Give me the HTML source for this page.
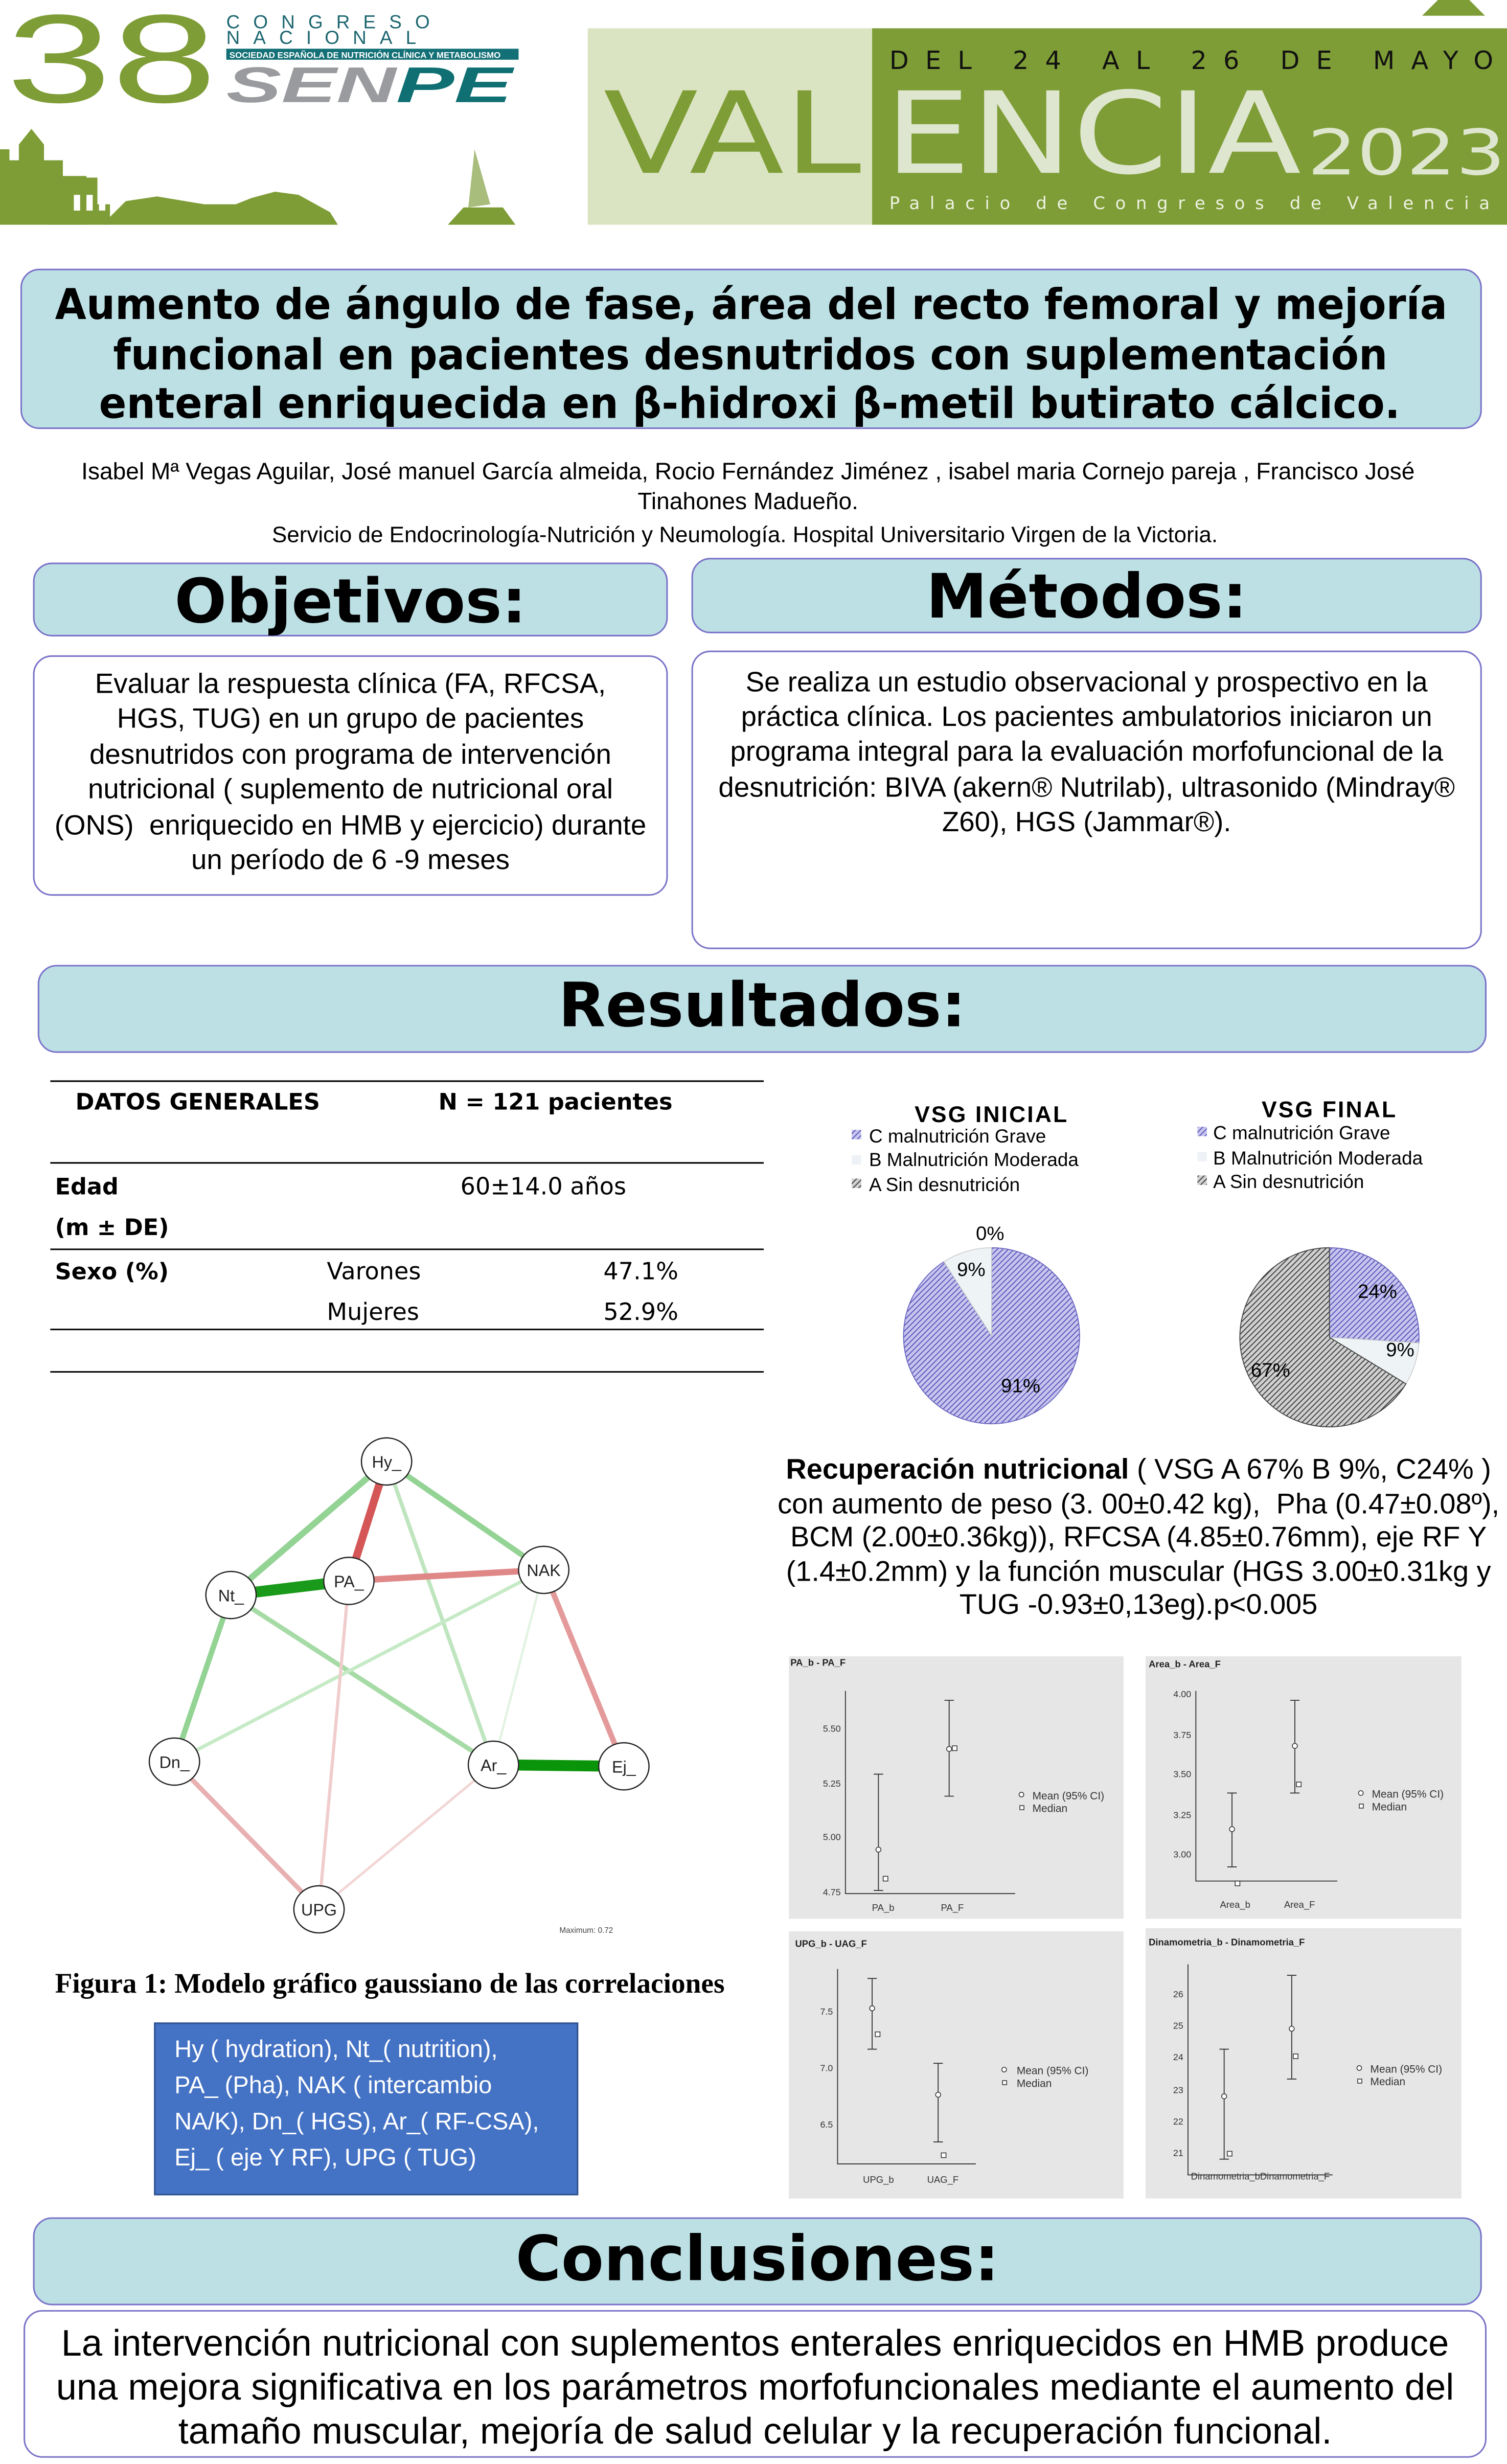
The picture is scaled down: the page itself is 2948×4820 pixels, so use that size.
<!DOCTYPE html>
<html><head><meta charset="utf-8">
<style>
html,body{margin:0;padding:0;background:#fff;}
body{width:2948px;height:4820px;overflow:hidden;position:relative;}
#w{position:absolute;left:0;top:0;width:959px;height:1568px;transform:scale(3.07404);transform-origin:0 0;font-family:"Liberation Sans",sans-serif;color:#000;}
.a{position:absolute;}
.box{position:absolute;box-sizing:border-box;border:1.3px solid #7b74c9;border-radius:12px;}
.hb{background:#bde0e5;}
.c{text-align:center;white-space:nowrap;}
.b{font-weight:bold;}
</style></head><body><div id="w">

<!-- HEADER -->
<svg class="a" style="left:0;top:0" width="959" height="145">
  <rect x="374" y="18" width="182" height="125" fill="#dbe4c2"/>
  <rect x="555" y="18" width="404" height="125" fill="#7e9d36"/>
  <text x="4" y="65" font-family="Liberation Sans" font-size="80" fill="#7e9d36" textLength="134" lengthAdjust="spacingAndGlyphs">38</text>
  <text x="144" y="18" font-family="Liberation Sans" font-size="12" fill="#1d6670" letter-spacing="8.5">CONGRESO</text>
  <text x="144" y="28" font-family="Liberation Sans" font-size="12" fill="#1d6670" letter-spacing="8.5">NACIONAL</text>
  <rect x="144" y="31" width="186" height="7" fill="#137076"/>
  <text x="146" y="37" font-family="Liberation Sans" font-size="5.5" fill="#fff" font-weight="bold">SOCIEDAD ESPAÑOLA DE NUTRICIÓN CLÍNICA Y METABOLISMO</text>
  <text x="144" y="65" font-family="Liberation Sans" font-size="32" font-weight="bold" font-style="italic" fill="#9a9b9e" textLength="108" lengthAdjust="spacingAndGlyphs">SEN</text>
  <text x="252" y="65" font-family="Liberation Sans" font-size="32" font-weight="bold" font-style="italic" fill="#0f6f73" textLength="74" lengthAdjust="spacingAndGlyphs">PE</text>
  <path d="M0 143 L0 95 L6 95 L6 102 L12 102 L12 92 L20 82 L28 92 L28 102 L40 102 L40 113 L62 113 L62 130 L70 130 L70 143 Z" fill="#7e9d36"/>
  <path d="M30 143 L30 112 L55 112 L55 143 Z M65 143 L80 128 L100 125 L130 130 L150 130 L160 126 L175 122 L190 124 L210 135 L215 143 Z" fill="#7e9d36"/>
  <rect x="47" y="124" width="4" height="10" fill="#fff"/><rect x="55" y="124" width="4" height="10" fill="#fff"/><rect x="63" y="124" width="4" height="10" fill="#fff"/>
  <path d="M285 143 L295 132 L320 132 L328 143 Z" fill="#7e9d36"/>
  <path d="M298 132 L302 95 L312 130 Z" fill="#a8bd7c"/>
  <text x="566" y="44" font-family="DejaVu Sans" font-size="16" fill="#111" letter-spacing="10.5">DEL 24 AL 26 DE MAYO</text>
  <text x="384" y="110" font-family="DejaVu Sans" font-size="72" fill="#7e9d36" textLength="164" lengthAdjust="spacingAndGlyphs">VAL</text>
  <text x="563" y="110" font-family="DejaVu Sans" font-size="72" fill="#dfe6cf" textLength="265" lengthAdjust="spacingAndGlyphs">ENCIA</text>
  <text x="832" y="111" font-family="DejaVu Sans" font-size="40" fill="#dfe6cf" textLength="126" lengthAdjust="spacingAndGlyphs">2023</text>
  <text x="566" y="133" font-family="DejaVu Sans" font-size="11" fill="#eef2e2" letter-spacing="6.4">Palacio de Congresos de Valencia</text>
  <path d="M905 10 L915 0 L935 0 L945 10 Z" fill="#7e9d36"/>
</svg>

<!-- TITLE -->
<div class="box hb" style="left:13px;top:171px;width:930px;height:102px;"></div>
<svg class="a" style="left:0;top:170px" width="959" height="110" font-family="DejaVu Sans" font-weight="bold" font-size="27">
  <text x="35" y="33" textLength="886" lengthAdjust="spacingAndGlyphs">Aumento de ángulo de fase, área del recto femoral y mejoría</text>
  <text x="72" y="65" textLength="811" lengthAdjust="spacingAndGlyphs">funcional en pacientes desnutridos con suplementación</text>
  <text x="63" y="96" textLength="828" lengthAdjust="spacingAndGlyphs">enteral enriquecida en β-hidroxi β-metil butirato cálcico.</text>
</svg>

<div class="a c" style="left:0;top:291px;width:952px;font-size:15px;line-height:19px;">Isabel Mª Vegas Aguilar, José manuel García almeida, Rocio Fernández Jiménez , isabel maria Cornejo pareja , Francisco José<br>Tinahones Madueño.</div>
<div class="a c" style="left:0;top:333px;width:948px;font-size:14.3px;">Servicio de Endocrinología-Nutrición y Neumología. Hospital Universitario Virgen de la Victoria.</div>

<!-- OBJETIVOS -->
<div class="box hb" style="left:21px;top:358px;width:404px;height:47px;"></div>
<div class="a c b" style="left:21px;top:361px;width:404px;font-size:39px;font-family:'DejaVu Sans',sans-serif;">Objetivos:</div>
<div class="box" style="left:21px;top:417px;width:404px;height:153px;"></div>
<div class="a c" style="left:21px;top:424px;width:404px;font-size:17.8px;line-height:22.4px;">Evaluar la respuesta clínica (FA, RFCSA,<br>HGS, TUG) en un grupo de pacientes<br>desnutridos con programa de intervención<br>nutricional ( suplemento de nutricional oral<br>(ONS)&nbsp; enriquecido en HMB y ejercicio) durante<br>un período de 6 -9 meses</div>

<!-- METODOS -->
<div class="box hb" style="left:440px;top:355px;width:503px;height:48px;"></div>
<div class="a c b" style="left:440px;top:358px;width:503px;font-size:39px;font-family:'DejaVu Sans',sans-serif;">Métodos:</div>
<div class="box" style="left:440px;top:414px;width:503px;height:190px;"></div>
<div class="a c" style="left:440px;top:423px;width:503px;font-size:17.8px;line-height:22.2px;">Se realiza un estudio observacional y prospectivo en la<br>práctica clínica. Los pacientes ambulatorios iniciaron un<br>programa integral para la evaluación morfofuncional de la<br>desnutrición: BIVA (akern® Nutrilab), ultrasonido (Mindray®<br>Z60), HGS (Jammar®).</div>

<!-- RESULTADOS -->
<div class="box hb" style="left:24px;top:614px;width:922px;height:56px;"></div>
<div class="a c b" style="left:24px;top:618px;width:922px;font-size:39px;font-family:'DejaVu Sans',sans-serif;">Resultados:</div>

<!-- TABLE -->
<svg class="a" style="left:0;top:680px" width="500" height="200" font-family="DejaVu Sans">
  <g stroke="#000" stroke-width="1"><line x1="32" y1="8" x2="486" y2="8"/><line x1="32" y1="60" x2="486" y2="60"/><line x1="32" y1="115" x2="486" y2="115"/><line x1="32" y1="166" x2="486" y2="166"/><line x1="32" y1="193" x2="486" y2="193"/></g>
  <g font-size="14.5" font-weight="bold"><text x="48" y="26">DATOS GENERALES</text><text x="279" y="26">N = 121 pacientes</text>
  <text x="35" y="80">Edad</text><text x="35" y="106">(m ± DE)</text><text x="35" y="134">Sexo (%)</text></g>
  <g font-size="15"><text x="293" y="80">60±14.0 años</text><text x="208" y="134">Varones</text><text x="384" y="134">47.1%</text><text x="208" y="160">Mujeres</text><text x="384" y="160">52.9%</text></g>
</svg>

<!-- PIES -->
<svg class="a" style="left:520px;top:690px" width="439" height="230" font-family="Liberation Sans">
  <defs>
    <pattern id="hb" width="2.5" height="2.5" patternUnits="userSpaceOnUse" patternTransform="rotate(45)"><rect width="2.5" height="2.5" fill="#c7c4ee"/><line x1="0" y1="0" x2="0" y2="2.5" stroke="#5652b8" stroke-width="1.2"/></pattern>
    <pattern id="hg" width="2.5" height="2.5" patternUnits="userSpaceOnUse" patternTransform="rotate(45)"><rect width="2.5" height="2.5" fill="#d0d0d0"/><line x1="0" y1="0" x2="0" y2="2.5" stroke="#3a3a3a" stroke-width="1.2"/></pattern>
  </defs>
  <text x="111" y="24" font-size="14.5" font-weight="bold" text-anchor="middle" letter-spacing="1">VSG INICIAL</text>
  <g font-size="12"><rect x="22" y="29" width="6" height="6" fill="url(#hb)"/><text x="33" y="37">C malnutrición Grave</text>
  <rect x="22" y="45" width="6" height="6" fill="#eef2f7"/><text x="33" y="52">B Malnutrición Moderada</text>
  <rect x="22" y="60" width="6" height="6" fill="url(#hg)"/><text x="33" y="68">A Sin desnutrición</text></g>
  <path d="M111 160 L111 104 A56 56 0 1 1 80.7 112.9 Z" fill="url(#hb)" stroke="#6a66c0" stroke-width="0.6"/>
  <path d="M111 160 L80.7 112.9 A56 56 0 0 1 111 104 Z" fill="#eef3f6" stroke="#ccc" stroke-width="0.5"/>
  <g font-size="12.5"><text x="101" y="99">0%</text><text x="89" y="122">9%</text><text x="117" y="196">91%</text></g>

  <text x="326" y="21" font-size="14.5" font-weight="bold" text-anchor="middle" letter-spacing="1">VSG FINAL</text>
  <g font-size="12"><rect x="242" y="27" width="6" height="6" fill="url(#hb)"/><text x="252" y="35">C malnutrición Grave</text>
  <rect x="242" y="43" width="6" height="6" fill="#eef2f7"/><text x="252" y="51">B Malnutrición Moderada</text>
  <rect x="242" y="58" width="6" height="6" fill="url(#hg)"/><text x="252" y="66">A Sin desnutrición</text></g>
  <path d="M326 161 L326 104 A57 57 0 0 1 382.9 164.6 Z" fill="url(#hb)" stroke="#6a66c0" stroke-width="0.6"/>
  <path d="M326 161 L382.9 164.6 A57 57 0 0 1 374.7 190.6 Z" fill="#eef3f6" stroke="#ccc" stroke-width="0.5"/>
  <path d="M326 161 L374.7 190.6 A57 57 0 1 1 326 104 Z" fill="url(#hg)" stroke="#444" stroke-width="0.6"/>
  <g font-size="12.5"><text x="344" y="136">24%</text><text x="362" y="173">9%</text><text x="276" y="186">67%</text></g>
</svg>

<!-- NETWORK -->
<svg class="a" style="left:80px;top:900px" width="420" height="340" font-family="Liberation Sans">
  <g stroke-linecap="round" transform="translate(-80,-900)">
    <line x1="246" y1="930" x2="147" y2="1015" stroke="#93d394" stroke-width="4"/>
    <line x1="246" y1="930" x2="346" y2="999" stroke="#93d394" stroke-width="3.5"/>
    <line x1="246" y1="930" x2="314" y2="1123" stroke="#bfe5bf" stroke-width="2.5"/>
    <line x1="246" y1="930" x2="222" y2="1006" stroke="#d45656" stroke-width="5"/>
    <line x1="147" y1="1015" x2="222" y2="1006" stroke="#1a9a1a" stroke-width="7"/>
    <line x1="222" y1="1006" x2="346" y2="999" stroke="#e08888" stroke-width="4"/>
    <line x1="147" y1="1015" x2="111" y2="1121" stroke="#93d394" stroke-width="3.5"/>
    <line x1="147" y1="1015" x2="314" y2="1123" stroke="#a6dba6" stroke-width="3"/>
    <line x1="111" y1="1121" x2="346" y2="999" stroke="#c6eac6" stroke-width="2.2"/>
    <line x1="346" y1="999" x2="314" y2="1123" stroke="#e2f3e2" stroke-width="1.5"/>
    <line x1="346" y1="999" x2="397" y2="1124" stroke="#e49a9a" stroke-width="3.5"/>
    <line x1="314" y1="1123" x2="397" y2="1124" stroke="#0a940a" stroke-width="7"/>
    <line x1="111" y1="1121" x2="203" y2="1215" stroke="#e8b0b0" stroke-width="3"/>
    <line x1="222" y1="1006" x2="203" y2="1215" stroke="#f0cccc" stroke-width="2"/>
    <line x1="314" y1="1123" x2="203" y2="1215" stroke="#f2d6d6" stroke-width="1.6"/>
    <g fill="#fff" stroke="#222" stroke-width="0.8">
      <ellipse cx="246" cy="930" rx="16" ry="15"/><ellipse cx="222" cy="1006" rx="16" ry="15"/><ellipse cx="147" cy="1015" rx="16" ry="15"/><ellipse cx="346" cy="999" rx="16" ry="15"/><ellipse cx="111" cy="1121" rx="16" ry="15"/><ellipse cx="314" cy="1123" rx="16" ry="15"/><ellipse cx="397" cy="1124" rx="16" ry="15"/><ellipse cx="203" cy="1215" rx="16" ry="15"/>
    </g>
    <g font-size="10.5" text-anchor="middle" fill="#222">
      <text x="246" y="934">Hy_</text><text x="222" y="1010">PA_</text><text x="147" y="1019">Nt_</text><text x="346" y="1003">NAK</text><text x="111" y="1125">Dn_</text><text x="314" y="1127">Ar_</text><text x="397" y="1128">Ej_</text><text x="203" y="1219">UPG</text>
    </g>
    <text x="356" y="1230" font-size="5" fill="#444">Maximum: 0.72</text>
  </g>
</svg>

<div class="a b" style="left:35px;top:1252px;font-family:'Liberation Serif',serif;font-size:18px;white-space:nowrap;">Figura 1: Modelo gráfico gaussiano de las correlaciones</div>
<div class="a" style="left:98px;top:1287px;width:270px;height:110px;background:#4472c4;border:1px solid #2f528f;box-sizing:border-box;"></div>
<div class="a" style="left:111px;top:1293px;color:#fff;font-size:15.3px;line-height:23px;white-space:nowrap;">Hy ( hydration), Nt_( nutrition),<br>PA_ (Pha), NAK ( intercambio<br>NA/K), Dn_( HGS), Ar_( RF-CSA),<br>Ej_ ( eje Y RF), UPG ( TUG)</div>

<div class="a c" style="left:490px;top:925px;width:469px;font-size:18.2px;line-height:21.6px;"><b>Recuperación nutricional</b> ( VSG A 67% B 9%, C24% )<br>con aumento de peso (3. 00±0.42 kg),&nbsp; Pha (0.47±0.08º),<br>BCM (2.00±0.36kg)), RFCSA (4.85±0.76mm), eje RF Y<br>(1.4±0.2mm) y la función muscular (HGS 3.00±0.31kg y<br>TUG -0.93±0,13eg).p&lt;0.005</div>

<!-- PANELS -->
<svg class="a" style="left:0;top:0" width="959" height="1568" font-family="Liberation Sans" fill="#333">
  <rect x="502" y="1054" width="213" height="167" fill="#e6e6e6"/>
  <rect x="729" y="1054" width="201" height="167" fill="#e6e6e6"/>
  <rect x="502" y="1229" width="213" height="170" fill="#e6e6e6"/>
  <rect x="729" y="1227" width="201" height="172" fill="#e6e6e6"/>
  <g font-size="6" font-weight="bold" fill="#222"><text x="503" y="1060">PA_b - PA_F</text><text x="731" y="1061">Area_b - Area_F</text><text x="506" y="1239">UPG_b - UAG_F</text><text x="731" y="1238">Dinamometria_b - Dinamometria_F</text></g>
  <g stroke="#333" stroke-width="0.6" fill="none">
    <path d="M538 1076 V1205 H646"/>
    <path d="M559 1129 V1203 M556 1129 H562 M556 1203 H562 M604 1082 V1143 M601 1082 H607 M601 1143 H607"/>
    <path d="M761 1076 V1197 H851"/>
    <path d="M784 1141 V1188 M781 1141 H787 M781 1188 H787 M824 1082 V1141 M821 1082 H827 M821 1141 H827"/>
    <path d="M533 1253 V1377 H621"/>
    <path d="M555 1259 V1304 M552 1259 H558 M552 1304 H558 M597 1313 V1363 M594 1313 H600 M594 1363 H600"/>
    <path d="M756 1250 V1384 H848"/>
    <path d="M779 1304 V1374 M776 1304 H782 M776 1374 H782 M822 1257 V1323 M819 1257 H825 M819 1323 H825"/>
  </g>
  <g fill="#fff" stroke="#333" stroke-width="0.5">
    <circle cx="559" cy="1177" r="1.6"/><circle cx="604" cy="1113" r="1.6"/>
    <rect x="562" y="1194" width="3" height="3"/><rect x="606" y="1111" width="3" height="3"/>
    <circle cx="784" cy="1164" r="1.6"/><circle cx="824" cy="1111" r="1.6"/>
    <rect x="786" y="1197" width="3" height="3"/><rect x="825" y="1134" width="3" height="3"/>
    <circle cx="555" cy="1278" r="1.6"/><circle cx="597" cy="1333" r="1.6"/>
    <rect x="557" y="1293" width="3" height="3"/><rect x="599" y="1370" width="3" height="3"/>
    <circle cx="779" cy="1334" r="1.6"/><circle cx="822" cy="1291" r="1.6"/>
    <rect x="781" y="1369" width="3" height="3"/><rect x="823" y="1307" width="3" height="3"/>
    <circle cx="650" cy="1142" r="1.5"/><rect x="649" y="1149" width="2.6" height="2.6"/>
    <circle cx="866" cy="1141" r="1.5"/><rect x="865" y="1148" width="2.6" height="2.6"/>
    <circle cx="639" cy="1317" r="1.5"/><rect x="638" y="1324" width="2.6" height="2.6"/>
    <circle cx="865" cy="1316" r="1.5"/><rect x="864" y="1323" width="2.6" height="2.6"/>
  </g>
  <g font-size="6.8"><text x="657" y="1145">Mean (95% CI)</text><text x="657" y="1153">Median</text>
  <text x="873" y="1144">Mean (95% CI)</text><text x="873" y="1152">Median</text>
  <text x="647" y="1320">Mean (95% CI)</text><text x="647" y="1328">Median</text>
  <text x="872" y="1319">Mean (95% CI)</text><text x="872" y="1327">Median</text></g>
  <g font-size="5.8" text-anchor="end">
    <text x="535" y="1102">5.50</text><text x="535" y="1137">5.25</text><text x="535" y="1171">5.00</text><text x="535" y="1206">4.75</text>
    <text x="758" y="1080">4.00</text><text x="758" y="1106">3.75</text><text x="758" y="1131">3.50</text><text x="758" y="1157">3.25</text><text x="758" y="1182">3.00</text>
    <text x="530" y="1282">7.5</text><text x="530" y="1318">7.0</text><text x="530" y="1354">6.5</text>
    <text x="753" y="1271">26</text><text x="753" y="1291">25</text><text x="753" y="1311">24</text><text x="753" y="1332">23</text><text x="753" y="1352">22</text><text x="753" y="1372">21</text>
  </g>
  <g font-size="6" text-anchor="middle">
    <text x="562" y="1216">PA_b</text><text x="606" y="1216">PA_F</text>
    <text x="786" y="1214">Area_b</text><text x="827" y="1214">Area_F</text>
    <text x="559" y="1389">UPG_b</text><text x="600" y="1389">UAG_F</text>
    <text x="802" y="1387">Dinamometria_bDinamometria_F</text>
  </g>
</svg>

<!-- CONCLUSIONES -->
<div class="box hb" style="left:21px;top:1411px;width:922px;height:56px;"></div>
<div class="a c b" style="left:21px;top:1415px;width:922px;font-size:39.5px;font-family:'DejaVu Sans',sans-serif;">Conclusiones:</div>
<div class="box" style="left:15px;top:1470px;width:931px;height:94px;"></div>
<div class="a c" style="left:15px;top:1477px;width:931px;font-size:23.5px;line-height:28px;">La intervención nutricional con suplementos enterales enriquecidos en HMB produce<br>una mejora significativa en los parámetros morfofuncionales mediante el aumento del<br>tamaño muscular, mejoría de salud celular y la recuperación funcional.</div>

</div></body></html>
